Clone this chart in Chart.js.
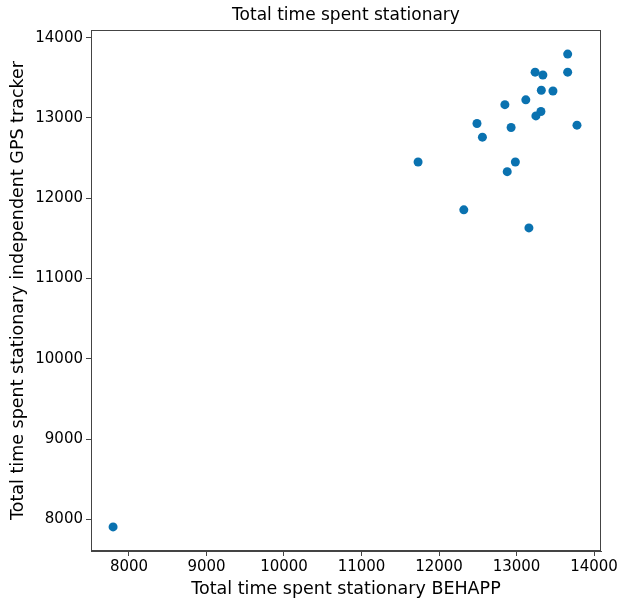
<!DOCTYPE html>
<html>
<head>
<meta charset="utf-8">
<script src="https://cdn.jsdelivr.net/npm/chart.js@4"></script>
<style>
  html, body { margin: 0; padding: 0; background: #fff; }
  #wrap { width: 619px; height: 601px; }
</style>
</head>
<body>
<div id="wrap"><canvas id="chartStationary" width="619" height="601"></canvas></div>
<script>
// Total time spent stationary: BEHAPP (x) vs independent GPS tracker (y)
const behapp = [
    13660, 13240, 13340, 13660, 13320, 13470, 13120, 12850, 13315, 13250,
    13780, 12490, 12930, 12560, 11730, 12985, 12880, 12320, 13160, 7795
];
const gpsTracker = [
    13795, 13570, 13535, 13570, 13345, 13335, 13225, 13165, 13080, 13025,
    12910, 12930, 12880, 12760, 12450, 12450, 12330, 11855, 11630, 7905
];
const xTicks = [8000, 9000, 10000, 11000, 12000, 13000, 14000];
const yTicks = [8000, 9000, 10000, 11000, 12000, 13000, 14000];

const titleText = 'Total time spent stationary';
const xTitle = 'Total time spent stationary BEHAPP';
const yTitle = 'Total time spent stationary independent GPS tracker';

const FONT = "'DejaVu Sans', sans-serif";

// frame around plot + title centred over the plot area
const framePlugin = {
    id: 'frame',
    afterDraw(chart) {
        const { ctx, chartArea: a } = chart;
        ctx.save();
        ctx.strokeStyle = '#444';
        ctx.lineWidth = 1;
        ctx.strokeRect(a.left + 0.5, a.top + 0.5, a.right - a.left - 1, a.bottom - a.top - 1);
        ctx.fillStyle = '#000';
        ctx.font = '17px ' + FONT;
        ctx.textAlign = 'center';
        ctx.textBaseline = 'middle';
        ctx.fillText(titleText, (a.left + a.right) / 2, 16);
        ctx.restore();
    }
};

new Chart(document.getElementById('chartStationary'), {
    type: 'scatter',
    data: {
        datasets: [{
            label: 'stationary',
            data: behapp.map((x, i) => ({ x: x, y: gpsTracker[i] })),
            backgroundColor: '#0a72b0',
            borderWidth: 0,
            pointRadius: 4.5,
            pointHoverRadius: 4.5
        }]
    },
    options: {
        responsive: false,
        animation: false,
        layout: { padding: { top: 30, right: 18, left: 0, bottom: 0 } },
        plugins: {
            legend: { display: false },
            tooltip: { enabled: false }
        },
        scales: {
            x: {
                type: 'linear',
                min: 7510,
                max: 14090,
                afterBuildTicks: (axis) => { axis.ticks = xTicks.map(v => ({ value: v })); },
                afterFit: (axis) => { axis.height = 50; axis.paddingRight = 0; },
                ticks: { color: '#000', font: { family: FONT, size: 15 }, padding: 2, maxRotation: 0, callback: (v) => String(v) },
                grid: { drawOnChartArea: false, drawTicks: true, tickLength: 5, color: '#444' },
                border: { display: true, color: '#444' },
                title: { display: true, text: xTitle, color: '#000', font: { family: FONT, size: 17.5 }, padding: { top: 0, bottom: 1 } }
            },
            y: {
                type: 'linear',
                min: 7605,
                max: 14095,
                afterBuildTicks: (axis) => { axis.ticks = yTicks.map(v => ({ value: v })); },
                afterFit: (axis) => { axis.width = 91; axis.paddingTop = 0; axis.paddingBottom = 0; },
                ticks: { color: '#000', font: { family: FONT, size: 15 }, padding: 3, callback: (v) => String(v) },
                grid: { drawOnChartArea: false, drawTicks: true, tickLength: 5, color: '#444' },
                border: { display: true, color: '#444' },
                title: { display: true, text: yTitle, color: '#000', font: { family: FONT, size: 17.5 }, padding: { top: 8, bottom: 0 } }
            }
        }
    },
    plugins: [framePlugin]
});
</script>
</body>
</html>
